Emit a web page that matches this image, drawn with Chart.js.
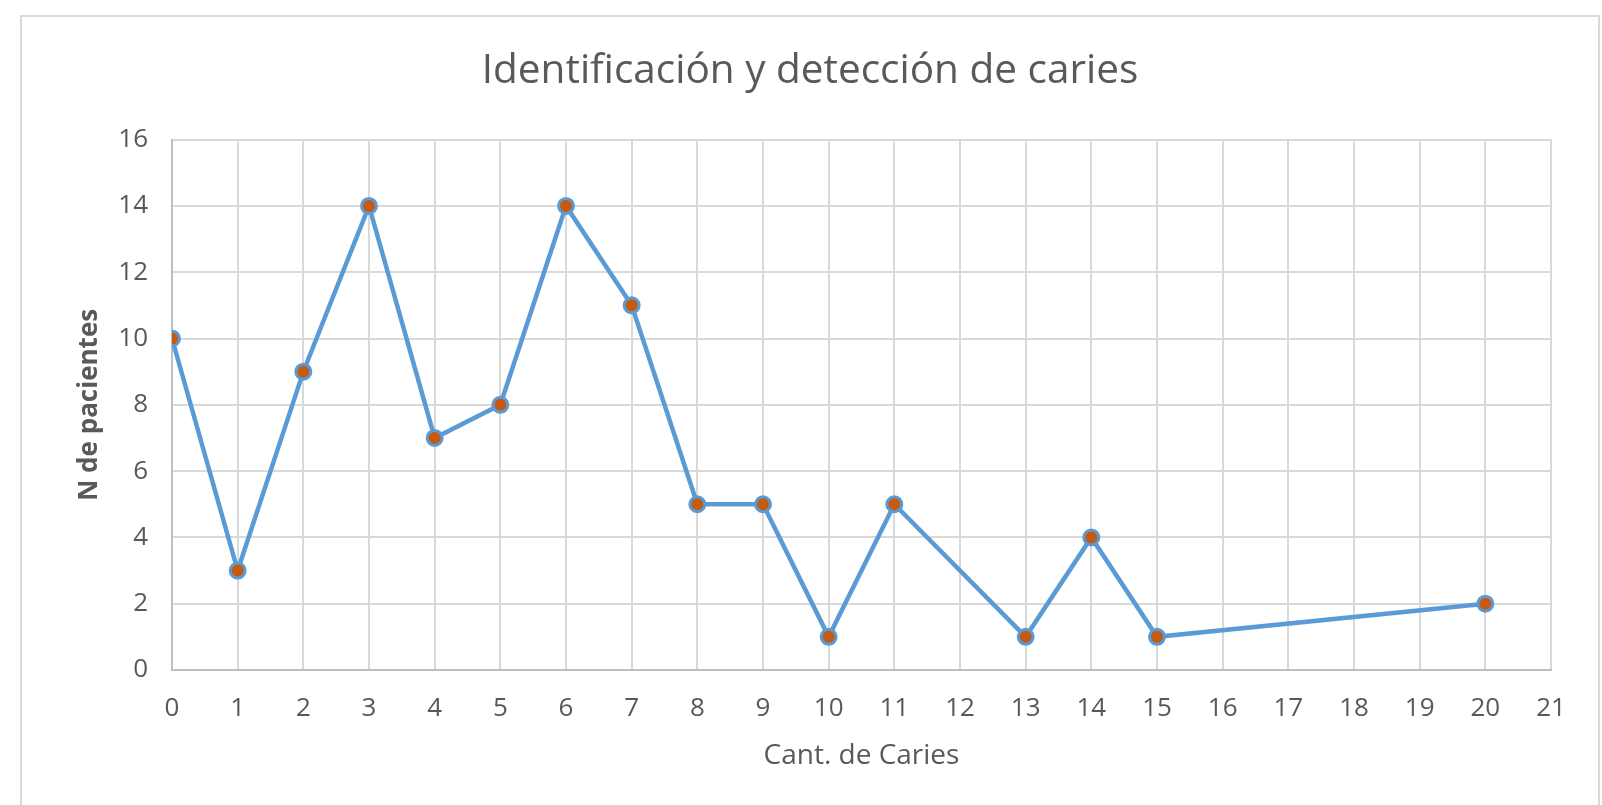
<!DOCTYPE html>
<html>
<head>
<meta charset="utf-8">
<script src="https://cdn.jsdelivr.net/npm/chart.js"></script>
<style>
  html, body { margin: 0; padding: 0; background: #fff; }
  #frame {
    position: absolute; left: 20px; top: 15px;
    width: 1576px; height: 790px;
    border: 2px solid #d9d9d9; border-bottom: none;
  }
  #box { position: relative; width: 1576px; height: 790px; }
</style>
</head>
<body>
<div id="frame"><div id="box"><canvas id="chart"></canvas></div></div>
<script>
// cantidad de caries (x) y número de pacientes (y)
const caries = [0, 1, 2, 3, 4, 5, 6, 7, 8, 9, 10, 11, 13, 14, 15, 20];
const pacientes = [10, 3, 9, 14, 7, 8, 14, 11, 5, 5, 1, 5, 1, 4, 1, 2];
const xTicks = [0, 21, 1];   // min, max, step
const yTicks = [0, 16, 2];

const gray = "#595959";
const font = "'Open Sans', sans-serif";

new Chart(document.getElementById("chart"), {
  type: "scatter",
  data: {
    datasets: [{
      data: caries.map((c, i) => ({ x: c, y: pacientes[i] })),
      showLine: true,
      borderColor: "#5b9bd5",
      borderWidth: 4.5,
      pointRadius: 7.5,
      pointBorderWidth: 3,
      pointBackgroundColor: "#c55a11",
      pointBorderColor: "#5b9bd5",
      tension: 0
    }]
  },
  options: {
    responsive: true,
    maintainAspectRatio: false,
    animation: false,
    layout: { padding: 0 },
    plugins: {
      legend: { display: false },
      tooltip: { enabled: false },
      title: {
        display: true,
        text: "Identificación y detección de caries",
        color: gray,
        font: { family: font, size: 40.5, weight: "normal" },
        padding: { top: 30.5, bottom: 43.5 }
      }
    },
    scales: {
      x: {
        type: "linear",
        min: xTicks[0], max: xTicks[1],
        afterFit: s => { s.height = 137; },
        ticks: { stepSize: xTicks[2], color: gray, padding: 23, font: { family: font, size: 26 } },
        grid: { color: "#d9d9d9", lineWidth: 2, drawTicks: false },
        border: { color: "#bfbfbf", width: 2 },
        title: { display: true, text: "Cant. de Caries", color: gray, padding: { bottom: 34 }, font: { family: font, size: 28 } }
      },
      y: {
        min: yTicks[0], max: yTicks[1],
        afterFit: s => { s.width = 150; },
        ticks: { stepSize: yTicks[2], color: gray, padding: 24, font: { family: font, size: 26 } },
        grid: { color: "#d9d9d9", lineWidth: 2, drawTicks: false },
        border: { color: "#bfbfbf", width: 2 },
        title: { display: true, text: "N de pacientes", color: gray, padding: { top: 52 }, font: { family: font, size: 26, weight: "bold" } }
      },
      // empty right margin so the title stays centred on the whole frame
      spacer: {
        axis: "y",
        position: "right",
        afterFit: s => { s.width = 47; },
        ticks: { display: false },
        grid: { display: false },
        border: { display: false }
      }
    }
  }
});
</script>
</body>
</html>
